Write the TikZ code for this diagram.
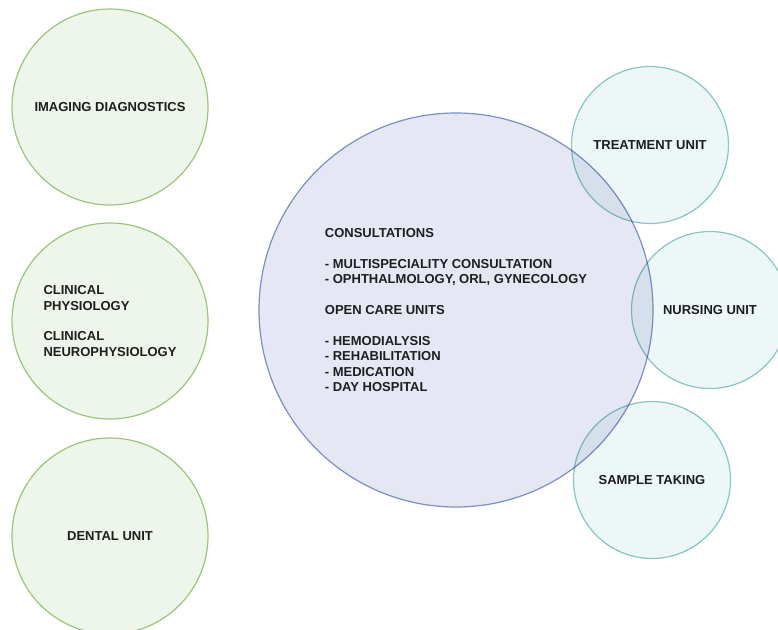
\documentclass[tikz,border=0pt]{standalone}
\usepackage{fontspec}
\setmainfont{Liberation Sans}
\usepackage{xcolor}
\definecolor{grline}{HTML}{9CC47C}
\definecolor{grfill}{HTML}{EEF5EA}
\definecolor{blline}{HTML}{7D8FBF}
\definecolor{blfill}{HTML}{E5E8F4}
\definecolor{tlline}{HTML}{8EC9C6}
\definecolor{tlfill}{HTML}{EEF7F7}
\definecolor{txt}{HTML}{1E1E1E}

\begin{document}
\begin{tikzpicture}[x=0.75pt,y=-0.75pt,
    unit/.style={circle,inner sep=0pt,line width=0.9pt,text=txt,align=left,
      font=\fontsize{9.75}{11.6}\selectfont\bfseries},
    greencirc/.style={unit,draw=grline,fill=grfill,minimum size=147pt},
    bigcirc/.style={unit,draw=blline,fill=blfill,minimum size=295.5pt},
    tealcirc/.style={unit,draw=tlline,fill=tlfill,minimum size=117.75pt,blend mode=multiply}]
    \useasboundingbox (0,0) rectangle (778,629);
    % left column
    \node[greencirc] (imaging) at (110,107) {IMAGING DIAGNOSTICS};
    \node[greencirc] (physio) at (110,321) {CLINICAL\\PHYSIOLOGY\\[11.6pt]CLINICAL\\NEUROPHYSIOLOGY};
    \node[greencirc] (dental) at (110,536) {DENTAL UNIT};
    % centre
    \node[bigcirc] (care) at (456,310) {CONSULTATIONS\\[11.6pt]
      - MULTISPECIALITY CONSULTATION\\
      - OPHTHALMOLOGY, ORL, GYNECOLOGY\\[11.6pt]
      OPEN CARE UNITS\\[11.6pt]
      - HEMODIALYSIS\\
      - REHABILITATION\\
      - MEDICATION\\
      - DAY HOSPITAL};
    % right column
    \node[tealcirc] (treatment) at (650,145) {TREATMENT UNIT};
    \node[tealcirc] (nursing) at (710,310) {NURSING UNIT};
    \node[tealcirc] (sample) at (652,480) {SAMPLE TAKING};
\end{tikzpicture}
\end{document}
